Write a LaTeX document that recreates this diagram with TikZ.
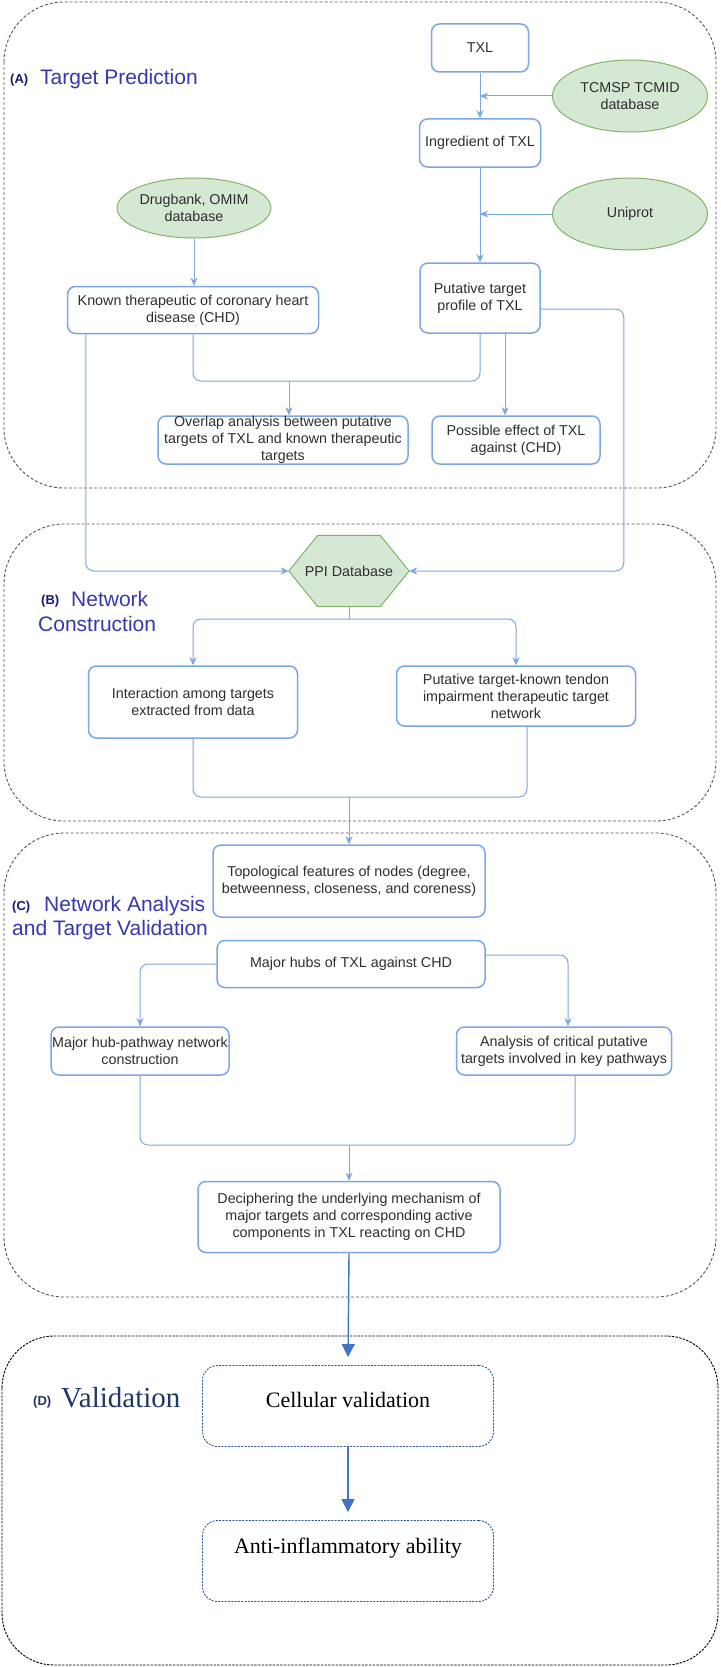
\documentclass[tikz,border=0pt]{standalone}
\usepackage{fontspec}
\setmainfont{Liberation Sans}
\newfontfamily\serifTNR{Liberation Serif}
\usetikzlibrary{shapes.geometric,arrows.meta,calc}
\definecolor{boxblue}{HTML}{7EA6E0}
\definecolor{lineblue}{HTML}{7EA6E0}
\definecolor{dbfill}{HTML}{D5E8D4}
\definecolor{dbline}{HTML}{82B366}
\definecolor{txtgray}{HTML}{2E2E2E}
\definecolor{titleblue}{RGB}{55,55,175}
\definecolor{labelnavy}{RGB}{25,25,115}
\definecolor{valnavy}{HTML}{1F3864}
\definecolor{darrow}{HTML}{4472C4}
\definecolor{ddash}{HTML}{2F5597}
\definecolor{regiongray}{RGB}{85,85,85}
\begin{document}
\begin{tikzpicture}[x=1pt,y=-1pt,
  bx/.style={draw=boxblue, line width=1.5pt, rounded corners=8pt, fill=white, align=center, inner sep=0pt, font=\fontsize{14.3}{17}\selectfont, text=txtgray},
  db/.style={ellipse, draw=dbline, fill=dbfill, line width=1pt, inner sep=0pt, align=center, font=\fontsize{14.3}{17}\selectfont, text=txtgray},
  conn/.style={draw=lineblue, line width=1pt, rounded corners=8pt},
  arr/.style={conn, -{Stealth[length=8pt,width=7pt,inset=2.5pt]}},
  bigarr/.style={draw=darrow, line width=1.4pt, shorten >=8pt, -{Triangle[length=13pt,width=13pt]}},
  region/.style={draw=regiongray, line width=0.9pt, dash pattern=on 3pt off 2pt, rounded corners=60pt},
  regionD/.style={draw=black, line width=0.9pt, dash pattern=on 2.5pt off 1.2pt, rounded corners=52pt},
  dbox/.style={draw=ddash, line width=0.9pt, dash pattern=on 2pt off 1.3pt, rounded corners=15pt, minimum width=291pt, minimum height=81pt, inner sep=0pt},
  dtext/.style={font=\serifTNR\fontsize{22}{26}\selectfont, text=black, inner sep=0pt},
  lab/.style={font=\bfseries\fontsize{13}{15}\selectfont, text=labelnavy, inner sep=0pt, anchor=base west},
  ttl/.style={font=\fontsize{21}{25}\selectfont, text=titleblue, inner sep=0pt, anchor=base west}
]
\useasboundingbox (0,0) rectangle (720,1667);
\fill[white] (0,0) rectangle (720,1667);

% regions
\draw[region] (4,2) rectangle (716,488);
\draw[region] (4,524) rectangle (716,821);
\draw[region] (4,833) rectangle (716,1297);
\draw[regionD] (2,1336) rectangle (718,1665);

% titles
\node[lab] (labA) at (10,84) {(A)};
\node[ttl] (ttlA) at (40,85) {Target Prediction};
\node[lab] (labB) at (41,604) {(B)};
\node[ttl] (ttlB1) at (71,606) {Network};
\node[ttl] (ttlB2) at (38,631) {Construction};
\node[lab] (labC) at (12,910) {(C)};
\node[ttl] (ttlC1) at (44,911) {Network Analysis};
\node[ttl] (ttlC2) at (12,935) {and Target Validation};
\node[lab, text=valnavy] (labD) at (33,1405) {(D)};
\node[inner sep=0pt, anchor=base west, font=\serifTNR\fontsize{29}{33}\selectfont, text=valnavy] (ttlD) at (61,1407) {Validation};

% section A nodes
\node[bx, minimum width=97pt, minimum height=48pt] (txl) at (480,48) {TXL};
\node[db, minimum width=155pt, minimum height=72pt] (tcmsp) at (630,96) {TCMSP TCMID\\database};
\node[bx, minimum width=121pt, minimum height=48pt] (ingr) at (480,143) {Ingredient of TXL};
\node[db, minimum width=155pt, minimum height=72pt] (uniprot) at (630,214) {Uniprot};
\node[db, minimum width=144pt, minimum height=60pt] (drug) at (194,208) {Drugbank, OMIM\\database};
\node[bx, minimum width=251pt, minimum height=47pt] (known) at (193,310) {Known therapeutic of coronary heart\\disease (CHD)};
\node[bx, minimum width=120pt, minimum height=70pt] (put) at (480,298) {Putative target\\profile of TXL};
\node[bx, minimum width=250pt, minimum height=48pt] (overlap) at (283,440) {Overlap analysis between putative\\targets of TXL and known therapeutic\\targets};
\node[bx, minimum width=168pt, minimum height=48pt] (possible) at (516,440) {Possible effect of TXL\\against (CHD)};

% section B nodes
\node[minimum width=120pt, minimum height=71pt, inner sep=0pt] (ppi) at (349,571) {};
\draw[fill=dbfill, draw=dbline, line width=1pt] (ppi.west) -- ([xshift=29pt]ppi.north west) -- ([xshift=-29pt]ppi.north east) -- (ppi.east) -- ([xshift=-29pt]ppi.south east) -- ([xshift=29pt]ppi.south west) -- cycle;
\node[font=\fontsize{14.3}{17}\selectfont, text=txtgray, inner sep=0pt] (ppitext) at (ppi) {PPI Database};
\node[bx, minimum width=209pt, minimum height=72pt] (inter) at (193,702) {Interaction among targets\\extracted from data};
\node[bx, minimum width=239pt, minimum height=60pt] (ptk) at (516,696) {Putative target-known tendon\\impairment therapeutic target\\network};

% section C nodes
\node[bx, minimum width=272pt, minimum height=72pt] (topo) at (349,881) {Topological features of nodes (degree,\\betweenness, closeness, and coreness)};
\node[bx, minimum width=268pt, minimum height=47pt] (hubs) at (351,964) {Major hubs of TXL against CHD};
\node[bx, minimum width=178pt, minimum height=48pt] (mhp) at (140,1051) {Major hub-pathway network\\construction};
\node[bx, minimum width=215pt, minimum height=48pt] (ana) at (564,1051) {Analysis of critical putative\\targets involved in key pathways};
\node[bx, minimum width=302pt, minimum height=71pt] (deci) at (349,1217) {Deciphering the underlying mechanism of\\major targets and corresponding active\\components in TXL reacting on CHD};

% section D nodes
\node[dbox] (cell) at (348,1406) {};
\node[dtext] (celltxt) at (348,1400) {Cellular validation};
\node[dbox] (anti) at (348,1561) {};
\node[dtext] (antitxt) at (348,1548) {Anti-inflammatory ability};

% connectors A
\draw[arr] (txl.south) -- (ingr.north);
\draw[arr] (tcmsp.west) -- (txl.south |- tcmsp.west);
\draw[arr] (ingr.south) -- (put.north);
\draw[arr] (uniprot.west) -- (ingr.south |- uniprot.west);
\draw[arr] (drug.south) -- (drug.south |- known.north);
\coordinate (j1) at (289,381);
\draw[conn] (known.south) -- (known.south |- j1) -- (put.south |- j1) -- (put.south);
\draw[arr] (j1) -- (j1 |- overlap.north);
\draw[arr] ([xshift=25pt]put.south) -- ([xshift=25pt]put.south |- possible.north);

% connectors to PPI
\draw[arr] ([xshift=19pt]known.south west) |- (ppi.west);
\draw[arr] ([yshift=-11pt]put.east) -- ++(83,0) |- (ppi.east);

% connectors B
\coordinate (sp) at (349,619);
\draw[conn] (ppi.south) -- (sp);
\draw[arr] (sp) -| (inter.north);
\draw[arr] (sp) -| (ptk.north);
\coordinate (m1) at (349,797);
\draw[conn] (inter.south) |- (m1);
\draw[conn] ([xshift=11pt]ptk.south) |- (m1);
\draw[arr] (m1) -- (topo.north);

% connectors C
\draw[arr] (hubs.west) -| (mhp.north);
\draw[arr] ([yshift=9pt]hubs.east) -| ([xshift=4pt]ana.north);
\coordinate (m2) at (349,1145);
\draw[conn] (mhp.south) |- (m2);
\draw[conn] ([xshift=11pt]ana.south) |- (m2);
\draw[arr] (m2) -- (deci.north);

% connectors D
\draw[bigarr] (deci.south) -- (cell.north);
\draw[bigarr] (cell.south) -- (anti.north);
\end{tikzpicture}
\end{document}
